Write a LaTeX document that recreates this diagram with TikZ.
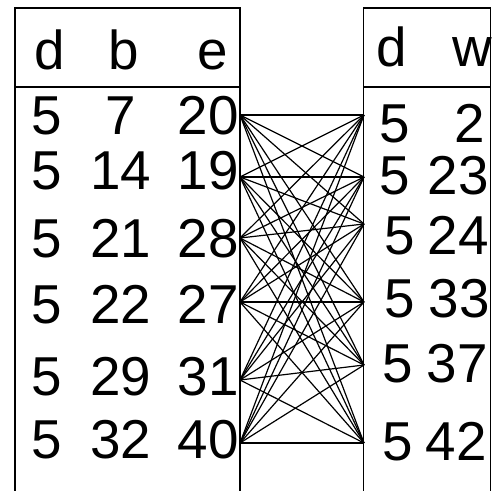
\documentclass[tikz,border=0pt]{standalone}
\usepackage{fontspec}
\setmainfont{Liberation Sans}
\begin{document}
\begin{tikzpicture}[x=1bp, y=-1bp,
    cell/.style={font=\fontsize{55}{55}\selectfont, inner sep=0pt, anchor=base},
    rcell/.style={cell, anchor=base east},
    rule/.style={draw=black, line width=1.3bp},
    link/.style={draw=black, line width=1.2bp},
  ]
  \useasboundingbox (0,0) rectangle (492,491);

  % Table frames (open at the bottom)
  \draw[rule] (15,491) -- (15,8) -- (240,8) -- (240,491);
  \draw[rule] (15,87) -- (240,87);
  \draw[rule] (363.5,491) -- (363.5,8) -- (490.5,8) -- (490.5,491);
  \draw[rule] (363.5,87) -- (490.5,87);

  % Headers
  \node[cell] (lhd) at (50,70) {d};
  \node[cell] (lhb) at (124,70) {b};
  \node[cell] (lhe) at (213,70) {e};
  \node[cell] (rhd) at (392,67) {d};
  \node[cell] (rhw) at (472,67) {w};

  % Left rows: baseline / b / e
  \foreach \y/\b/\e [count=\i] in {135/7/20, 190/14/19, 257/21/28,
                                   323/22/27, 395/29/31, 458/32/40} {
    \node[cell] (ld\i) at (47,\y) {5};
    \node[cell] (lb\i) at (121,\y) {\b};
    \node[rcell] (le\i) at (239,\y) {\e};
  }

  % Right rows: baseline / x of d / w / right edge of w
  \foreach \y/\dx/\w/\wx [count=\i] in {143/395/2/485, 195/395/23/489,
      254/400/24/489, 317/400/33/490, 382/398/37/488, 460/398/42/487} {
    \node[cell] (rd\i) at (\dx,\y) {5};
    \node[rcell] (rw\i) at (\wx,\y) {\w};
  }

  % Ports on the facing borders
  \foreach \y [count=\i] in {115,177,238,302,380,443}
    \coordinate (L\i) at (240,\y);
  \foreach \y [count=\i] in {115,177,224,302,365,443}
    \coordinate (R\i) at (364,\y);

  % Every left row joined to every right row
  \foreach \i in {1,...,6}
    \foreach \j in {1,...,6}
      \draw[link] (L\i) -- (R\j);
\end{tikzpicture}
\end{document}
